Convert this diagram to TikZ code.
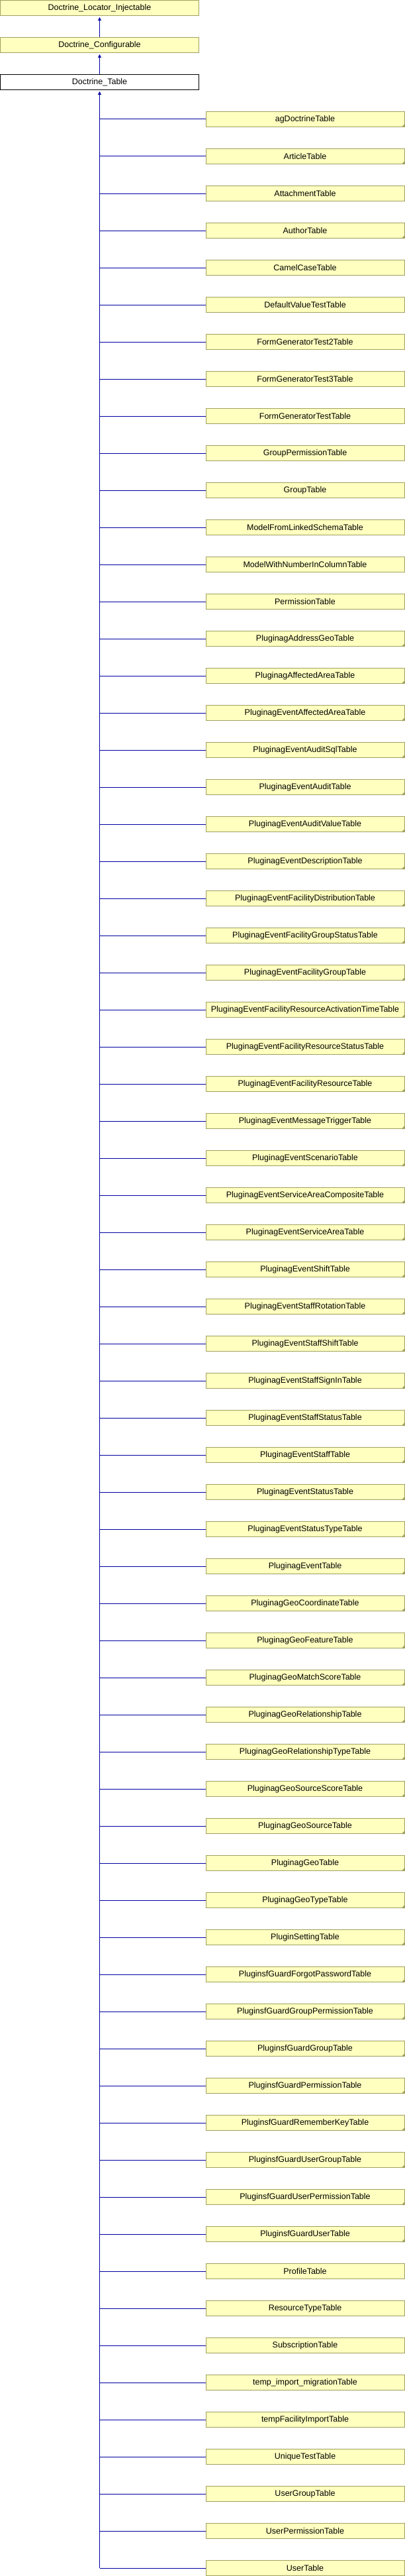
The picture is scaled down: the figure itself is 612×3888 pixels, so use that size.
\documentclass[tikz,border=0pt]{standalone}
\usepackage{fontspec}
\setmainfont{Liberation Sans}
\usetikzlibrary{arrows.meta}
\definecolor{boxfill}{RGB}{255,255,192}
\definecolor{boxline}{RGB}{160,160,96}
\definecolor{edgeblue}{RGB}{0,0,160}

\begin{document}
\begin{tikzpicture}[x=1pt, y=-1pt, >={Triangle[length=5pt,width=5pt]},
  class box/.style={draw=boxline, fill=boxfill, line width=1pt,
    minimum width=300pt, minimum height=23pt, inner sep=0pt,
    font=\fontsize{12.5}{14}\selectfont},
  this class/.style={class box, draw=black, fill=white},
  inherit/.style={draw=edgeblue, line width=1pt}]
\useasboundingbox (0,0) rectangle (612,3888);

% Draw base classes
\node [class box] (injectable) at (150.5,12) {Doctrine\_Locator\_Injectable};
\node [class box] (configurable) at (150.5,68) {Doctrine\_Configurable};
\node [this class] (table) at (150.5,124) {Doctrine\_Table};

% Connect base classes
\draw [inherit, ->, shorten >=2pt] (configurable.north) -- (injectable.south);
\draw [inherit, ->, shorten >=2pt] (table.north) -- (configurable.south);

% Draw derived classes (flag 1 = truncated marker)
\foreach \n/\t [count=\i] in {agDoctrineTable/1, ArticleTable/1,
    AttachmentTable/0, AuthorTable/1, CamelCaseTable/0,
    DefaultValueTestTable/0, FormGeneratorTest2Table/0,
    FormGeneratorTest3Table/0, FormGeneratorTestTable/0,
    GroupPermissionTable/0, GroupTable/0, ModelFromLinkedSchemaTable/0,
    ModelWithNumberInColumnTable/0, PermissionTable/0,
    PluginagAddressGeoTable/1, PluginagAffectedAreaTable/1,
    PluginagEventAffectedAreaTable/1, PluginagEventAuditSqlTable/1,
    PluginagEventAuditTable/1, PluginagEventAuditValueTable/1,
    PluginagEventDescriptionTable/1,
    PluginagEventFacilityDistributionTable/1,
    PluginagEventFacilityGroupStatusTable/1,
    PluginagEventFacilityGroupTable/1,
    PluginagEventFacilityResourceActivationTimeTable/1,
    PluginagEventFacilityResourceStatusTable/1,
    PluginagEventFacilityResourceTable/1,
    PluginagEventMessageTriggerTable/1, PluginagEventScenarioTable/1,
    PluginagEventServiceAreaCompositeTable/1,
    PluginagEventServiceAreaTable/1, PluginagEventShiftTable/1,
    PluginagEventStaffRotationTable/1, PluginagEventStaffShiftTable/1,
    PluginagEventStaffSignInTable/1, PluginagEventStaffStatusTable/1,
    PluginagEventStaffTable/1, PluginagEventStatusTable/1,
    PluginagEventStatusTypeTable/1, PluginagEventTable/1,
    PluginagGeoCoordinateTable/1, PluginagGeoFeatureTable/1,
    PluginagGeoMatchScoreTable/1, PluginagGeoRelationshipTable/1,
    PluginagGeoRelationshipTypeTable/1, PluginagGeoSourceScoreTable/1,
    PluginagGeoSourceTable/1, PluginagGeoTable/1, PluginagGeoTypeTable/1,
    PluginSettingTable/1, PluginsfGuardForgotPasswordTable/1,
    PluginsfGuardGroupPermissionTable/1, PluginsfGuardGroupTable/1,
    PluginsfGuardPermissionTable/1, PluginsfGuardRememberKeyTable/1,
    PluginsfGuardUserGroupTable/1, PluginsfGuardUserPermissionTable/1,
    PluginsfGuardUserTable/1, ProfileTable/0, ResourceTypeTable/0,
    SubscriptionTable/0, temp\_import\_migrationTable/0,
    tempFacilityImportTable/0, UniqueTestTable/0, UserGroupTable/0,
    UserPermissionTable/0, UserTable/0}
{
  \node [class box] (child-\i) at (461,56*\i+124) {\n};
  \draw [inherit] (child-\i.west) -- (child-\i.west -| table.south);
  \ifnum\t=1
    \fill [boxline] (child-\i.south east) -- ++(-5,0) -- ++(5,-5) -- cycle;
  \fi
}

% Connect derived classes with Doctrine_Table
\coordinate (trunk-end) at (table.south |- child-67.west);
\draw [inherit, ->, shorten >=2pt] (trunk-end) -- (table.south);
\end{tikzpicture}
\end{document}
